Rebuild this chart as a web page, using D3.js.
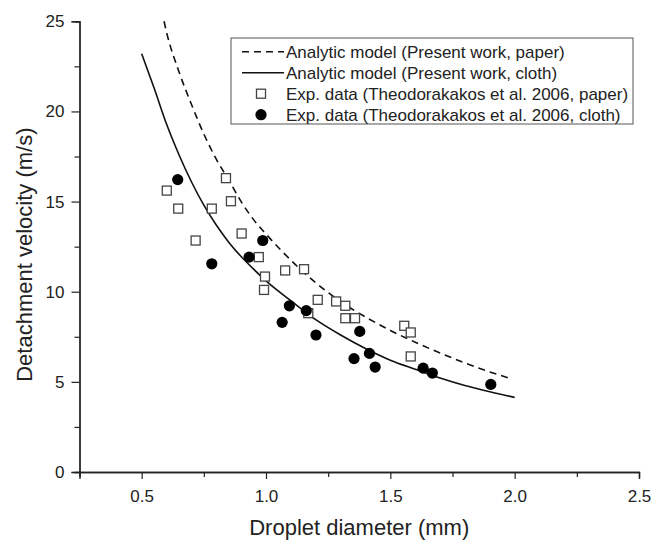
<!DOCTYPE html>
<html>
<head>
<meta charset="utf-8">
<script src="https://cdn.jsdelivr.net/npm/d3@7"></script>
<style>
body { margin: 0; background: #fff; }
svg text { font-family: "Liberation Sans", Arial, sans-serif; fill: #222; }
</style>
</head>
<body>
<div id="chart"></div>
<script>
// model curves
const paperModelD = [0.59, 0.6, 0.65, 0.7, 0.75, 0.8, 0.85, 0.9, 0.95, 1.0, 1.1, 1.2, 1.3, 1.4, 1.5, 1.6, 1.7, 1.8, 1.9, 1.98];
const paperModelV = [25.0, 24.4, 22.2, 20.4, 18.75, 17.35, 16.2, 15.0, 14.0, 13.2, 11.75, 10.5, 9.45, 8.6, 7.85, 7.2, 6.6, 6.05, 5.55, 5.2];
const clothModelD = [0.5, 0.55, 0.6, 0.65, 0.7, 0.75, 0.8, 0.85, 0.9, 0.95, 1.0, 1.1, 1.2, 1.3, 1.4, 1.5, 1.6, 1.7, 1.8, 1.9, 2.0];
const clothModelV = [23.2, 21.3, 19.3, 17.6, 16.1, 14.8, 13.7, 12.75, 11.95, 11.25, 10.6, 9.5, 8.45, 7.6, 6.85, 6.2, 5.7, 5.22, 4.8, 4.45, 4.14];

// experimental points (Theodorakakos et al. 2006)
const paperExpD = [0.601, 0.647, 0.717, 0.782, 0.839, 0.859, 0.902, 0.971, 0.996, 0.992, 1.077, 1.153, 1.170, 1.208, 1.282, 1.319, 1.319, 1.358, 1.556, 1.582, 1.582];
const paperExpV = [15.61, 14.61, 12.84, 14.61, 16.3, 15.02, 13.23, 11.92, 10.84, 10.1, 11.18, 11.25, 8.81, 9.55, 9.46, 9.22, 8.53, 8.53, 8.11, 7.74, 6.41];
const clothExpD = [0.645, 0.782, 0.932, 0.987, 1.065, 1.094, 1.162, 1.201, 1.354, 1.377, 1.416, 1.439, 1.632, 1.669, 1.904];
const clothExpV = [16.22, 11.55, 11.92, 12.84, 8.3, 9.22, 8.95, 7.6, 6.29, 7.8, 6.58, 5.82, 5.76, 5.49, 4.86];

const xMajor = [0.5, 1.0, 1.5, 2.0, 2.5];
const xMinor = [0.25, 0.75, 1.25, 1.75, 2.25];
const yMajor = [0, 5, 10, 15, 20, 25];
const yMinor = [2.5, 7.5, 12.5, 17.5, 22.5];

const legendLabels = [
    "Analytic model (Present work, paper)",
    "Analytic model (Present work, cloth)",
    "Exp. data (Theodorakakos et al. 2006, paper)",
    "Exp. data (Theodorakakos et al. 2006, cloth)"
];

const W = 654, H = 540;
const svg = d3.select("#chart").append("svg")
    .attr("width", W).attr("height", H);

const x = d3.scaleLinear().domain([0.25, 2.5]).range([79.5, 639]);
const y = d3.scaleLinear().domain([0, 25]).range([472, 21.3]);
const axisColor = "#222";

// axes
const gx = svg.append("g").attr("transform", `translate(0,${y(0)})`);
gx.call(d3.axisBottom(x).tickValues(xMinor).tickSize(5).tickFormat(""));
const gxMaj = svg.append("g").attr("transform", `translate(0,${y(0)})`)
    .call(d3.axisBottom(x).tickValues(xMajor).tickSize(7).tickPadding(11).tickFormat(d3.format(".1f")));
gxMaj.selectAll("text").style("font-size", "17px");

const gy = svg.append("g").attr("transform", `translate(${x(0.25)},0)`);
gy.call(d3.axisLeft(y).tickValues(yMinor).tickSize(5).tickFormat(""));
const gyMaj = svg.append("g").attr("transform", `translate(${x(0.25)},0)`)
    .call(d3.axisLeft(y).tickValues(yMajor).tickSize(8).tickPadding(7));
gyMaj.selectAll("text").style("font-size", "17px");

svg.selectAll(".domain").attr("stroke", axisColor).attr("stroke-width", 1.3);
svg.selectAll(".tick line").attr("stroke", axisColor).attr("stroke-width", 1.2);
svg.selectAll(".tick text").attr("fill", "#222");

// axis titles
svg.append("text")
    .attr("x", (x(0.25) + x(2.5)) / 2).attr("y", 535)
    .attr("text-anchor", "middle")
    .style("font-size", "22px")
    .text("Droplet diameter (mm)");

svg.append("text")
    .attr("transform", `translate(32,${(y(0) + y(25)) / 2 + 8}) rotate(-90)`)
    .attr("text-anchor", "middle")
    .style("font-size", "22px")
    .text("Detachment velocity (m/s)");

// model curves
const line = d3.line().x(d => x(d[0])).y(d => y(d[1])).curve(d3.curveMonotoneX);

svg.append("path")
    .datum(d3.zip(paperModelD, paperModelV))
    .attr("d", line)
    .attr("fill", "none")
    .attr("stroke", "#111")
    .attr("stroke-width", 1.6)
    .attr("stroke-dasharray", "7,5");

svg.append("path")
    .datum(d3.zip(clothModelD, clothModelV))
    .attr("d", line)
    .attr("fill", "none")
    .attr("stroke", "#111")
    .attr("stroke-width", 1.6);

// experimental points
const sq = 9;
svg.append("g").selectAll("rect")
    .data(d3.zip(paperExpD, paperExpV))
    .enter().append("rect")
    .attr("x", d => x(d[0]) - sq / 2)
    .attr("y", d => y(d[1]) - sq / 2)
    .attr("width", sq).attr("height", sq)
    .attr("fill", "#fff")
    .attr("stroke", "#444")
    .attr("stroke-width", 1.3);

svg.append("g").selectAll("circle")
    .data(d3.zip(clothExpD, clothExpV))
    .enter().append("circle")
    .attr("cx", d => x(d[0]))
    .attr("cy", d => y(d[1]))
    .attr("r", 5.6)
    .attr("fill", "#000");

// legend
const lg = svg.append("g").attr("transform", "translate(231,38)");
lg.append("rect")
    .attr("width", 402).attr("height", 86)
    .attr("fill", "#fff")
    .attr("stroke", "#555")
    .attr("stroke-width", 1);

const rowY = i => 13.7 + i * 21;
lg.append("line").attr("x1", 11).attr("x2", 53).attr("y1", rowY(0)).attr("y2", rowY(0))
    .attr("stroke", "#111").attr("stroke-width", 1.6).attr("stroke-dasharray", "7,5");
lg.append("line").attr("x1", 11).attr("x2", 53).attr("y1", rowY(1)).attr("y2", rowY(1))
    .attr("stroke", "#111").attr("stroke-width", 1.6);
lg.append("rect").attr("x", 30 - sq / 2).attr("y", rowY(2) - sq / 2)
    .attr("width", sq).attr("height", sq)
    .attr("fill", "#fff").attr("stroke", "#444").attr("stroke-width", 1.3);
lg.append("circle").attr("cx", 30).attr("cy", rowY(3)).attr("r", 5.6).attr("fill", "#000");

lg.selectAll("text.lab")
    .data(legendLabels)
    .enter().append("text")
    .attr("class", "lab")
    .attr("x", 55)
    .attr("y", (d, i) => rowY(i) + 6)
    .style("font-size", "17px")
    .text(d => d);
</script>
</body>
</html>
